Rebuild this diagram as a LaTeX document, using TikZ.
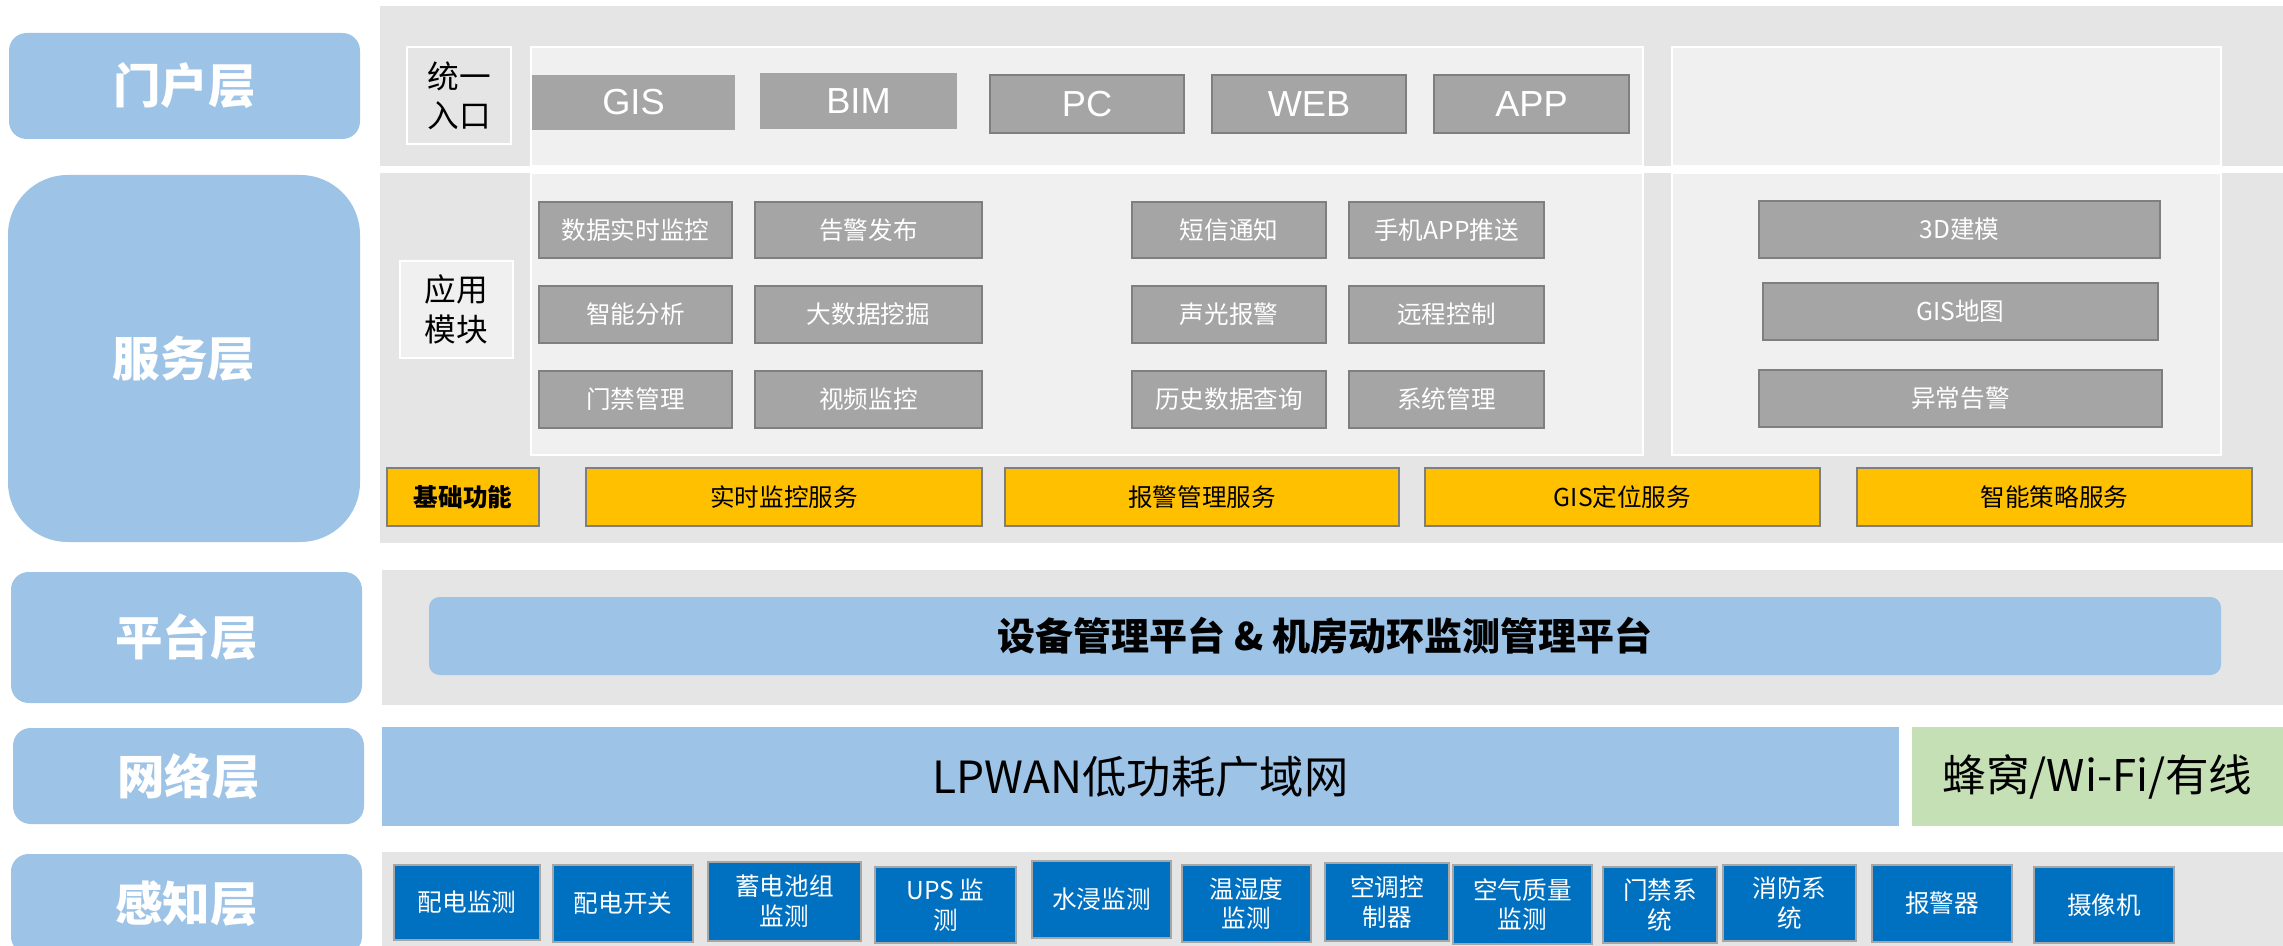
\documentclass[tikz,border=0pt]{standalone}
\usepackage{fontspec}
\setmainfont{Noto Sans CJK SC}
\newfontfamily\latfont{Liberation Sans}
\definecolor{cBlue}{HTML}{9DC3E6}
\definecolor{cPanel}{HTML}{E5E5E5}
\definecolor{cLight}{HTML}{F0F0F0}
\definecolor{cGbox}{HTML}{A5A5A5}
\definecolor{cGborder}{HTML}{7F7F7F}
\definecolor{cYel}{HTML}{FFC000}
\definecolor{cDblue}{HTML}{0070C0}
\definecolor{cSborder}{HTML}{A6A6A6}
\definecolor{cGreen}{HTML}{C5E0B4}
\newcommand\mybox[7]{\node[#2,minimum width={(#5-#3)*0.01cm},minimum height={(#6-#4)*0.01cm}] (#1) at ({(#3+#5)/2},{(#4+#6)/2}) {#7};}
\begin{document}
\begin{tikzpicture}[x=0.01cm,y=-0.01cm,
  every node/.style={inner sep=0pt,outer sep=0pt},
  layer/.style={fill=cBlue,draw=none,text=white,font=\fontsize{13.5}{16}\selectfont\bfseries},
  panel/.style={fill=cPanel,draw=none},
  lightpanel/.style={fill=cLight,draw=white,line width=0.6pt},
  tag/.style={draw=white,line width=0.6pt,font=\fontsize{9}{11.2}\selectfont,align=center},
  portalbox/.style={fill=cGbox,text=white,font=\latfont\fontsize{10.3}{12}\selectfont},
  portalboxb/.style={portalbox,draw=cGborder,line width=0.7pt},
  appbox/.style={fill=cGbox,draw=cGborder,line width=0.7pt,text=white,font=\fontsize{7}{8.5}\selectfont},
  svc/.style={fill=cYel,draw=cGborder,line width=0.7pt,font=\fontsize{7}{8.5}\selectfont},
  sense/.style={fill=cDblue,draw=cSborder,line width=0.7pt,text=white,font=\fontsize{7}{8.5}\selectfont,align=center}]
\useasboundingbox (0,0) rectangle (2283,946);
% ---------- portal layer
\mybox{pL}{layer,rounded corners=5pt}{9}{33}{360}{139}{门户层}
\mybox{pP}{panel}{380}{6}{2283}{166}{}
\mybox{pA}{lightpanel}{531}{47}{1643}{166}{}
\mybox{pB}{lightpanel}{1672}{47}{2221}{166}{}
\mybox{pT}{tag,fill=cPanel}{407}{47}{511}{144}{统一\\入口}
\mybox{gis}{portalbox}{532}{75}{735}{130}{GIS}
\mybox{bim}{portalbox}{760}{73}{957}{129}{BIM}
\mybox{pc}{portalboxb}{990}{75}{1184}{133}{PC}
\mybox{web}{portalboxb}{1212}{75}{1406}{133}{WEB}
\mybox{app}{portalboxb}{1434}{75}{1629}{133}{APP}
% ---------- service layer
\mybox{sL}{layer,rounded corners=17pt}{8}{175}{360}{542}{服务层}
\mybox{sP}{panel}{380}{173}{2283}{543}{}
\mybox{sA}{lightpanel}{531}{173}{1643}{455}{}
\mybox{sB}{lightpanel}{1672}{173}{2221}{455}{}
\mybox{sT}{tag,fill=cLight}{400}{261}{513}{358}{应用\\模块}
\mybox{a11}{appbox}{539}{202}{732}{258}{数据实时监控}
\mybox{a12}{appbox}{755}{202}{982}{258}{告警发布}
\mybox{a13}{appbox}{1132}{202}{1326}{258}{短信通知}
\mybox{a14}{appbox}{1349}{202}{1544}{258}{手机APP推送}
\mybox{a21}{appbox}{539}{286}{732}{343}{智能分析}
\mybox{a22}{appbox}{755}{286}{982}{343}{大数据挖掘}
\mybox{a23}{appbox}{1132}{286}{1326}{343}{声光报警}
\mybox{a24}{appbox}{1349}{286}{1544}{343}{远程控制}
\mybox{a31}{appbox}{539}{371}{732}{428}{门禁管理}
\mybox{a32}{appbox}{755}{371}{982}{428}{视频监控}
\mybox{a33}{appbox}{1132}{371}{1326}{428}{历史数据查询}
\mybox{a34}{appbox}{1349}{371}{1544}{428}{系统管理}
\mybox{r1}{appbox}{1759}{201}{2160}{258}{3D建模}
\mybox{r2}{appbox}{1763}{283}{2158}{340}{GIS地图}
\mybox{r3}{appbox}{1759}{370}{2162}{427}{异常告警}
\mybox{y0}{svc,font=\fontsize{7}{8.5}\selectfont\bfseries}{387}{468}{539}{526}{基础功能}
\mybox{y1}{svc}{586}{468}{982}{526}{实时监控服务}
\mybox{y2}{svc}{1005}{468}{1399}{526}{报警管理服务}
\mybox{y3}{svc}{1425}{468}{1820}{526}{GIS定位服务}
\mybox{y4}{svc}{1857}{468}{2252}{526}{智能策略服务}
% ---------- platform layer
\mybox{plL}{layer,rounded corners=5pt}{11}{572}{362}{703}{平台层}
\mybox{plP}{panel}{382}{570}{2283}{705}{}
\mybox{plB}{fill=cBlue,rounded corners=3pt,font=\fontsize{10.8}{13}\selectfont\bfseries}{429}{597}{2221}{675}{设备管理平台 \& 机房动环监测管理平台}
% ---------- network layer
\mybox{nL}{layer,rounded corners=5pt}{13}{728}{364}{824}{网络层}
\mybox{lp}{fill=cBlue,font=\fontsize{12.6}{15}\selectfont}{382}{727}{1899}{826}{LPWAN低功耗广域网}
\mybox{cell}{fill=cGreen,font=\fontsize{12.4}{15}\selectfont}{1912}{727}{2283}{826}{蜂窝/Wi-Fi/有线}
% ---------- perception layer
\mybox{kL}{layer,rounded corners=5pt}{11}{854}{362}{954}{感知层}
\mybox{kP}{panel}{382}{852}{2283}{960}{}
\mybox{k1}{sense}{394}{865}{540}{940}{配电监测}
\mybox{k2}{sense}{553}{865}{693}{942}{配电开关}
\mybox{k3}{sense}{708}{862}{861}{941}{蓄电池组\\监测}
\mybox{k4}{sense}{875}{867}{1016}{943}{UPS 监\\测}
\mybox{k5}{sense}{1032}{861}{1171}{938}{水浸监测}
\mybox{k6}{sense}{1182}{865}{1311}{942}{温湿度\\监测}
\mybox{k7}{sense}{1325}{863}{1449}{941}{空调控\\制器}
\mybox{k8}{sense}{1453}{865}{1592}{944}{空气质量\\监测}
\mybox{k9}{sense}{1603}{867}{1717}{943}{门禁系\\统}
\mybox{k10}{sense}{1723}{865}{1856}{941}{消防系\\统}
\mybox{k11}{sense}{1872}{865}{2012}{942}{报警器}
\mybox{k12}{sense}{2034}{867}{2174}{943}{摄像机}
\end{tikzpicture}
\end{document}
